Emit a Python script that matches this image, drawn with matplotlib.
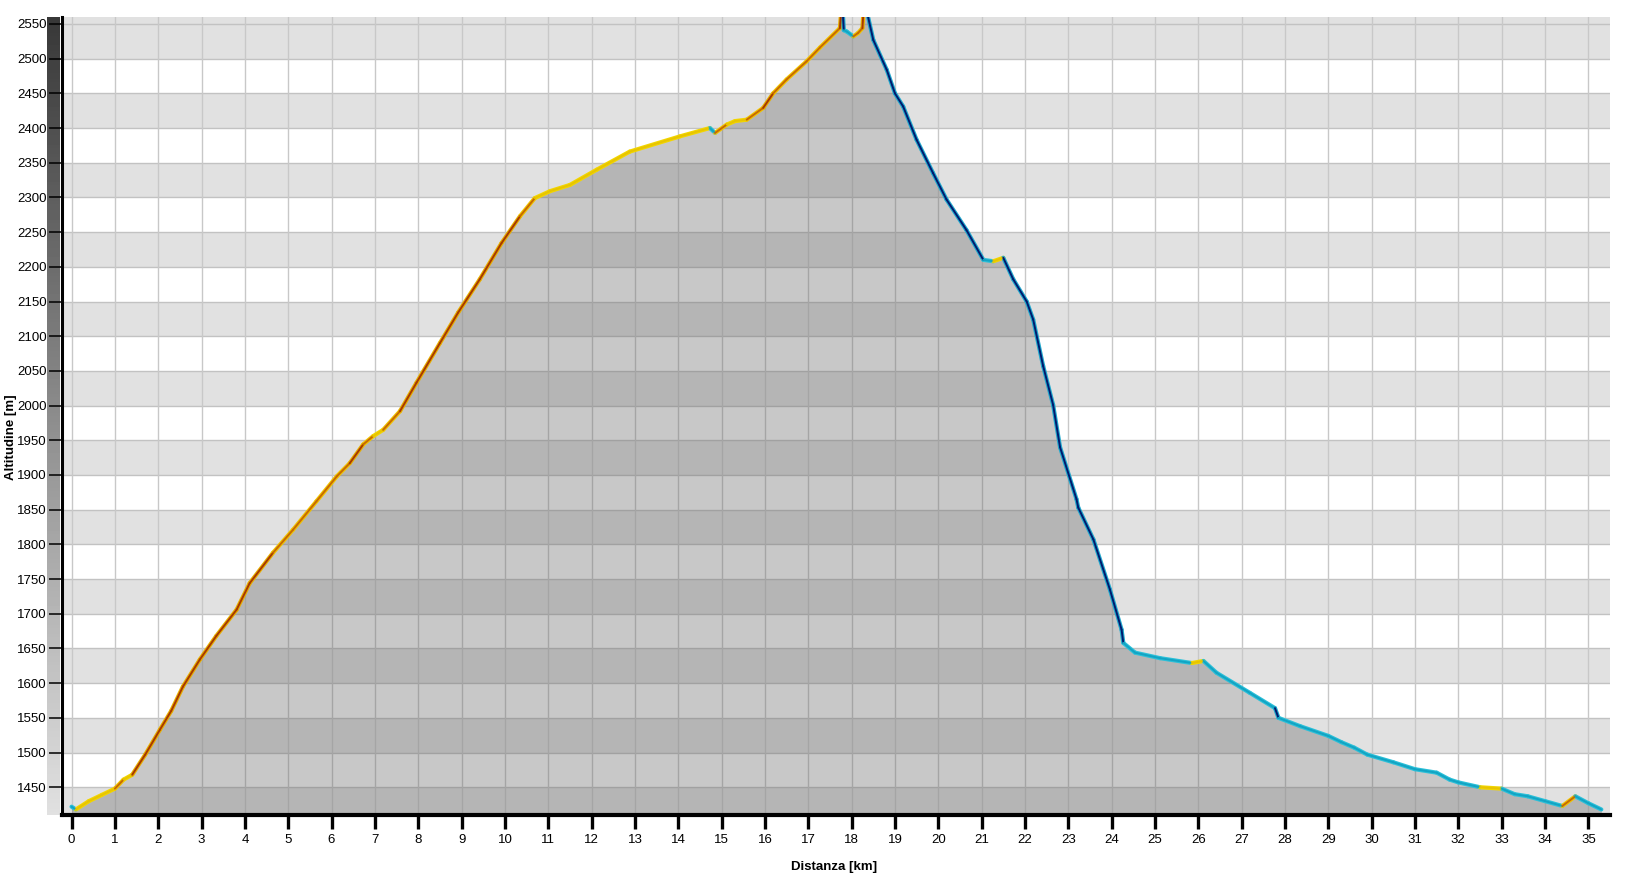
import numpy as np
import matplotlib
matplotlib.use("Agg")
import matplotlib.pyplot as plt
from matplotlib.collections import LineCollection

# --- Dati del profilo altimetrico ---
distanza_km = [0, 0.1, 0.4, 0.7, 1.0, 1.2, 1.4, 1.7, 2.04, 2.3, 2.57, 2.96, 3.34, 3.81,
               4.11, 4.65, 5.11, 5.65, 6.12, 6.42, 6.73, 6.96, 7.19, 7.58, 7.96, 8.5,
               8.92, 9.42, 9.92, 10.35, 10.69, 11.04, 11.5, 12.12, 12.88, 14.04, 14.73,
               14.85, 15.12, 15.31, 15.58, 15.96, 16.19, 16.5, 16.96, 17.27, 17.73, 17.78,
               17.82, 17.89, 18.04, 18.15, 18.25, 18.29, 18.5, 18.81, 19.0, 19.19, 19.5,
               19.88, 20.19, 20.65, 21.04, 21.27, 21.5, 21.73, 22.04, 22.19, 22.42, 22.65,
               22.81, 23.19, 23.23, 23.58, 23.96, 24.23, 24.27, 24.54, 25.12, 25.85, 26.12,
               26.42, 27.19, 27.77, 27.85, 28.35, 29.0, 29.3, 29.6, 29.9, 30.5, 31.0, 31.5,
               31.8, 32.0, 32.5, 33.0, 33.3, 33.6, 34.0, 34.4, 34.7, 35.0, 35.3]
altitudine_m = [1422, 1418, 1430, 1439, 1448, 1461, 1468, 1497, 1533, 1560, 1595, 1634, 1668, 1706,
                1744, 1788, 1821, 1862, 1898, 1917, 1944, 1956, 1965, 1992, 2033, 2090,
                2134, 2182, 2234, 2273, 2299, 2309, 2318, 2340, 2366, 2388, 2400,
                2393, 2405, 2410, 2412, 2429, 2450, 2470, 2496, 2516, 2544, 2585,
                2541, 2539, 2532, 2537, 2544, 2585, 2527, 2484, 2450, 2431, 2383,
                2335, 2297, 2253, 2210, 2208, 2213, 2182, 2150, 2124, 2057, 2001,
                1940, 1865, 1853, 1807, 1735, 1677, 1658, 1644, 1636, 1629, 1632,
                1615, 1586, 1564, 1550, 1538, 1524, 1515, 1507, 1497, 1486, 1476, 1471,
                1461, 1457, 1450, 1448, 1440, 1437, 1430, 1423, 1437, 1427, 1418]

x_ticks = list(range(0, 36))
y_ticks = list(range(1450, 2551, 50))

x = np.array(distanza_km, dtype=float)
y = np.array(altitudine_m, dtype=float)

Y_MIN, Y_MAX = 1410, 2560

fonte = ['Liberation Sans', 'DejaVu Sans']
plt.rcParams['font.family'] = fonte

fig = plt.figure(figsize=(16.38, 8.77), dpi=100)
W, H = 1638, 877
left, right, bottom, top = 62 / W, 1610 / W, 1 - 815 / H, 1 - 17 / H
ax = fig.add_axes([left, bottom, right - left, top - bottom])
ax.set_zorder(1)

# barra sfumata a sinistra dell'asse y
ax_bar = fig.add_axes([47 / W, bottom, 13 / W, top - bottom])
ax_bar.set_zorder(0)
grad = np.linspace(0.22, 0.88, 256).reshape(-1, 1)
ax_bar.imshow(grad, cmap='gray', vmin=0, vmax=1, aspect='auto')
ax_bar.axis('off')

# bande orizzontali alternate
for y0 in np.arange(1400, 2551, 100):
    ax.axhspan(max(y0, Y_MIN), min(y0 + 50, Y_MAX), color='#e1e1e1', lw=0, zorder=0)
ax.axhspan(2550, Y_MAX, color='#e1e1e1', lw=0, zorder=0)
for yy in y_ticks:
    ax.axhline(yy, color='#c2c2c2', lw=1.0, zorder=0.5)
for xx in x_ticks:
    ax.axvline(xx, color='#c8c8c8', lw=1.0, zorder=0.5)

# area sotto il profilo
ax.fill_between(x, y, Y_MIN, color='#646464', alpha=0.35, lw=0, zorder=1)

# linea colorata in base alla pendenza
pend = np.diff(y) / np.diff(x) / 10.0  # percentuale
col_sotto, col_sopra = [], []
for g in pend:
    if g >= 8:
        col_sotto.append('#e6b000'); col_sopra.append('#a83800')
    elif g >= 4:
        col_sotto.append('#f0c400'); col_sopra.append('#c86a00')
    elif g > -0.5:
        col_sotto.append('#f2d600'); col_sopra.append('#e8c400')
    elif g > -7:
        col_sotto.append('#2cc0d8'); col_sopra.append('#12a4c4')
    else:
        col_sotto.append('#20a8cc'); col_sopra.append('#001a6e')

punti = np.column_stack([x, y]).reshape(-1, 1, 2)
segmenti = np.concatenate([punti[:-1], punti[1:]], axis=1)
ax.add_collection(LineCollection(segmenti, colors=col_sotto, linewidths=3.0,
                                 capstyle='round', joinstyle='round', zorder=2))
ax.add_collection(LineCollection(segmenti, colors=col_sopra, linewidths=1.4,
                                 capstyle='round', joinstyle='round', zorder=3))

ax.set_xlim(-0.22, 35.5)
ax.set_ylim(Y_MIN, Y_MAX)
ax.set_xticks(x_ticks)
ax.set_yticks(y_ticks)
ax.tick_params(axis='x', length=10, width=2.4, color='black', pad=3.5, labelsize=9.5)
ax.tick_params(axis='y', length=9.4, width=1.1, color='black', pad=1.5, labelsize=9.5)

for lato in ['top', 'right']:
    ax.spines[lato].set_visible(False)
ax.spines['bottom'].set_linewidth(3.0)
ax.spines['left'].set_linewidth(2.2)

fig.text(834 / W, 1 - 867 / H, 'Distanza [km]', ha='center', va='center',
         fontsize=9.5, fontweight='bold', family=fonte)
fig.text(11 / W, 1 - 437 / H, 'Altitudine [m]', ha='center', va='center',
         rotation=90, fontsize=9.5, fontweight='bold', family=fonte)

fig.savefig('out.png', dpi=100, facecolor='white')
